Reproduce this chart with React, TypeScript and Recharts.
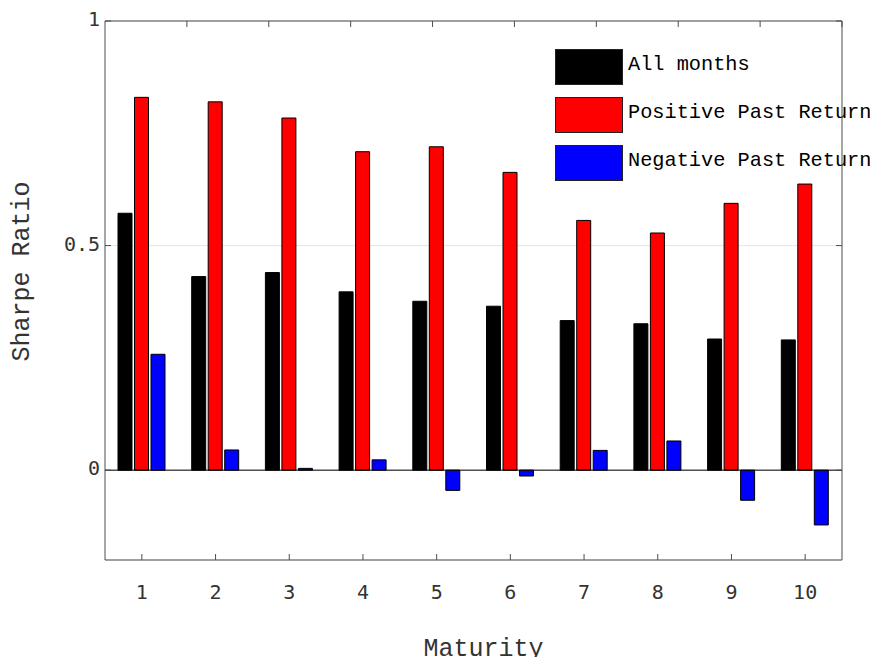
import React from 'react';
import {
  BarChart,
  Bar,
  XAxis,
  YAxis,
  CartesianGrid,
  ReferenceLine,
} from 'recharts';

// Sharpe ratios by maturity
const maturities = [1, 2, 3, 4, 5, 6, 7, 8, 9, 10];
const allMonths = [0.572, 0.431, 0.44, 0.397, 0.376, 0.365, 0.333, 0.326, 0.292, 0.29];
const positivePast = [0.83, 0.82, 0.784, 0.709, 0.72, 0.663, 0.556, 0.528, 0.594, 0.637];
const negativePast = [0.258, 0.045, 0.004, 0.023, -0.045, -0.013, 0.044, 0.065, -0.067, -0.122];

const yTicks = [0, 0.5, 1];

const seriesNames = ['All months', 'Positive Past Return', 'Negative Past Return'];
const seriesColors = ['#000000', '#ff0000', '#0000ff'];

const data = maturities.map((m, i) => ({
  maturity: m,
  all: allMonths[i],
  pos: positivePast[i],
  neg: negativePast[i],
}));

const W = 878;
const H = 665;

const MONO = '"Liberation Mono", "Courier New", monospace';
const TICK_FONT = '"DejaVu Sans Mono", monospace';
const AXIS_COLOR = '#4d4d4d';

const tickStyle = { fontSize: 20, fontFamily: TICK_FONT, fill: '#333' };

// legend sits over the plot, so it is laid out on top of the chart instead of
// taking space from it
const LegendBox = () => (
  <div
    style={{
      position: 'absolute',
      left: 555,
      top: 49,
      fontFamily: MONO,
      fontSize: 20.3,
      color: '#000',
      pointerEvents: 'none',
    }}
  >
    {seriesNames.map((name, i) => (
      <div key={name} style={{ display: 'flex', alignItems: 'center', height: 36, marginBottom: 12 }}>
        <div
          style={{
            width: 68,
            height: 36,
            boxSizing: 'border-box',
            border: '1px solid #222',
            background: seriesColors[i],
          }}
        />
        <span style={{ marginLeft: 5, marginTop: -6, whiteSpace: 'pre' }}>{name}</span>
      </div>
    ))}
  </div>
);

const App: React.FC = () => {
  return (
    // negative margins cancel the body margin so the chart fills the window
    <div style={{ position: 'relative', width: W, height: H, margin: -8 }}>
      <BarChart
        width={W}
        height={H}
        data={data}
        margin={{ top: 11, right: 16, bottom: 5, left: 0 }}
        barSize={14}
        barGap={2.5}
      >
        <CartesianGrid horizontal vertical={false} stroke="#e5e5e5" />
        <XAxis
          dataKey="maturity"
          type="category"
          height={100}
          stroke={AXIS_COLOR}
          tickSize={-6}
          tickMargin={31}
          tick={tickStyle}
          label={({ viewBox }: any) => (
            <text
              x={viewBox.x + viewBox.width / 2 + 10}
              y={viewBox.y + 96}
              textAnchor="middle"
              fontFamily={MONO}
              fontSize={25}
              fill="#333"
            >
              Maturity
            </text>
          )}
        />
        <XAxis
          xAxisId="top"
          orientation="top"
          type="number"
          domain={[0.5, 10.5]}
          allowDataOverflow
          ticks={maturities}
          height={10}
          stroke={AXIS_COLOR}
          tickSize={-6}
          tickFormatter={() => ''}
        />
        <YAxis
          domain={[-0.2, 1]}
          ticks={yTicks}
          allowDataOverflow
          width={105}
          stroke={AXIS_COLOR}
          tickSize={-6}
          tickMargin={11}
          tick={{ ...tickStyle, dy: -2 }}
          tickFormatter={(v: number) => String(v)}
          label={({ viewBox }: any) => {
            const cx = viewBox.x + 22;
            const cy = viewBox.y + viewBox.height / 2 - 19;
            return (
              <text
                x={cx}
                y={cy}
                transform={`rotate(-90, ${cx}, ${cy})`}
                textAnchor="middle"
                dominantBaseline="central"
                fontFamily={MONO}
                fontSize={25}
                fill="#333"
              >
                Sharpe Ratio
              </text>
            );
          }}
        />
        <YAxis
          yAxisId="right"
          orientation="right"
          domain={[-0.2, 1]}
          ticks={yTicks}
          allowDataOverflow
          width={20}
          stroke={AXIS_COLOR}
          tickSize={-6}
          tickFormatter={() => ''}
        />
        <Bar dataKey="all" name={seriesNames[0]} fill={seriesColors[0]} stroke="#000" strokeWidth={1} isAnimationActive={false} />
        <Bar dataKey="pos" name={seriesNames[1]} fill={seriesColors[1]} stroke="#000" strokeWidth={1} isAnimationActive={false} />
        <Bar dataKey="neg" name={seriesNames[2]} fill={seriesColors[2]} stroke="#000" strokeWidth={1} isAnimationActive={false} />
        <ReferenceLine y={0} stroke="#000" strokeWidth={1} />
      </BarChart>
      <LegendBox />
    </div>
  );
};

export default App;
